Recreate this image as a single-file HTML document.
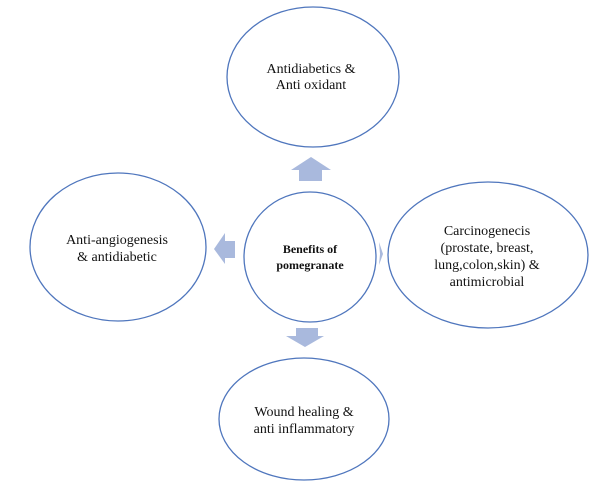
<!DOCTYPE html>
<html><head><style>body{margin:0;background:#fff}</style></head><body>
<svg width="601" height="501" xmlns="http://www.w3.org/2000/svg" style="display:block">
<g fill="#fff" stroke="#4f76bd" stroke-width="1.3">
<ellipse cx="313" cy="77" rx="86" ry="70"/>
<ellipse cx="118" cy="247" rx="88" ry="74"/>
<ellipse cx="488" cy="255" rx="100" ry="73"/>
<ellipse cx="304" cy="419" rx="85" ry="61"/>
<ellipse cx="310" cy="257" rx="66" ry="65"/>
</g>
<g fill="#a9b9dd">
<polygon points="311,157 331,170 322,170 322,181 299,181 299,170 291,170"/>
<polygon points="214,249 225,233 225,241 235,241 235,258 225,258 225,264"/>
<polygon points="286,336 296,336 296,328 318,328 318,336 324,336 305,347"/>
<polygon points="379,242 383,254 379,265 380,254"/>
</g>
<g font-family="Liberation Serif, serif" font-size="14" fill="#111" text-anchor="middle">
<text x="311" y="73">Antidiabetics &amp;</text>
<text x="311" y="89">Anti oxidant</text>
<text x="117" y="244">Anti-angiogenesis</text>
<text x="117" y="261">&amp; antidiabetic</text>
<text x="487" y="235">Carcinogenecis</text>
<text x="487" y="252">(prostate, breast,</text>
<text x="487" y="269">lung,colon,skin) &amp;</text>
<text x="487" y="286">antimicrobial</text>
<text x="304" y="416">Wound healing &amp;</text>
<text x="304" y="433">anti inflammatory</text>
<text x="310" y="253" font-size="12" font-weight="bold">Benefits of</text>
<text x="310" y="269" font-size="12" font-weight="bold">pomegranate</text>
</g>
</svg>
</body></html>
